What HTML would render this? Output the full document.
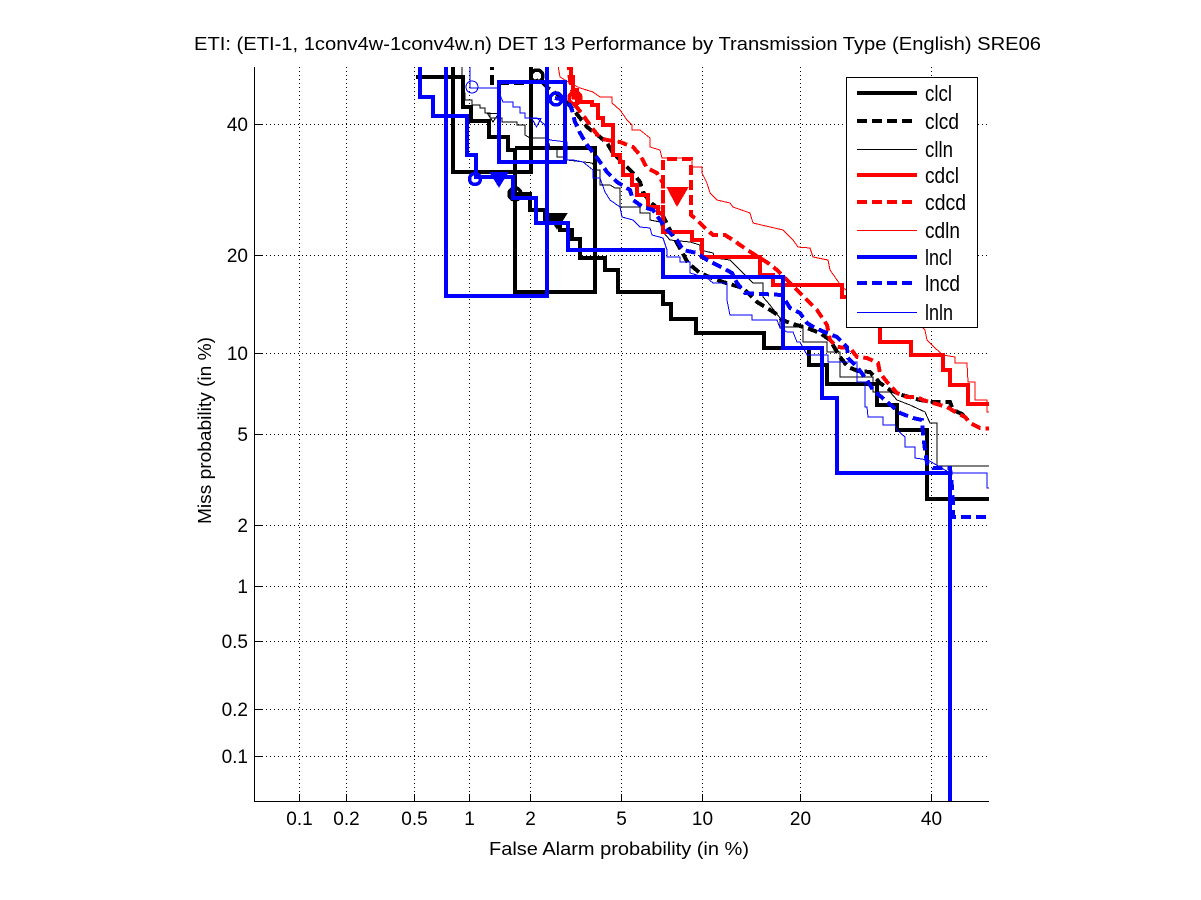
<!DOCTYPE html>
<html>
<head>
<meta charset="utf-8">
<style>
  html,body{margin:0;padding:0;background:#fff;}
  body{width:1201px;height:900px;overflow:hidden;}
  svg{display:block;}
  text{font-family:"Liberation Sans",Arial,sans-serif;fill:#000;}
</style>
</head>
<body>
<svg width="1201" height="900" viewBox="0 0 1201 900" xmlns="http://www.w3.org/2000/svg">
  <defs>
    <clipPath id="pc"><rect x="254" y="67" width="735" height="734"/></clipPath>
  </defs>
  <rect x="0" y="0" width="1201" height="900" fill="#fff"/>

  <!-- Title -->
  <text x="194" y="50" font-size="18" textLength="847" lengthAdjust="spacingAndGlyphs">ETI: (ETI-1, 1conv4w-1conv4w.n) DET 13 Performance by Transmission Type (English) SRE06</text>

  <!-- Grid (dotted) -->
  <g stroke="#000" stroke-width="1" stroke-dasharray="1 3" shape-rendering="crispEdges" fill="none">
    <line x1="299.5" y1="67" x2="299.5" y2="801"/>
    <line x1="346.5" y1="67" x2="346.5" y2="801"/>
    <line x1="414.5" y1="67" x2="414.5" y2="801"/>
    <line x1="469.5" y1="67" x2="469.5" y2="801"/>
    <line x1="530.5" y1="67" x2="530.5" y2="801"/>
    <line x1="621.5" y1="67" x2="621.5" y2="801"/>
    <line x1="702.5" y1="67" x2="702.5" y2="801"/>
    <line x1="800.5" y1="67" x2="800.5" y2="801"/>
    <line x1="931.5" y1="67" x2="931.5" y2="801"/>
    <line x1="254" y1="124.5" x2="989" y2="124.5"/>
    <line x1="254" y1="255.5" x2="989" y2="255.5"/>
    <line x1="254" y1="353.5" x2="989" y2="353.5"/>
    <line x1="254" y1="434.5" x2="989" y2="434.5"/>
    <line x1="254" y1="525.5" x2="989" y2="525.5"/>
    <line x1="254" y1="586.5" x2="989" y2="586.5"/>
    <line x1="254" y1="641.5" x2="989" y2="641.5"/>
    <line x1="254" y1="709.5" x2="989" y2="709.5"/>
    <line x1="254" y1="756.5" x2="989" y2="756.5"/>
  </g>

  <!-- Axes -->
  <g stroke="#000" stroke-width="1" shape-rendering="crispEdges" fill="none">
    <line x1="254.5" y1="67" x2="254.5" y2="801.5"/>
    <line x1="254" y1="801.5" x2="989" y2="801.5"/>
    <line x1="299.5" y1="801" x2="299.5" y2="794"/>
    <line x1="346.5" y1="801" x2="346.5" y2="794"/>
    <line x1="414.5" y1="801" x2="414.5" y2="794"/>
    <line x1="469.5" y1="801" x2="469.5" y2="794"/>
    <line x1="530.5" y1="801" x2="530.5" y2="794"/>
    <line x1="621.5" y1="801" x2="621.5" y2="794"/>
    <line x1="702.5" y1="801" x2="702.5" y2="794"/>
    <line x1="800.5" y1="801" x2="800.5" y2="794"/>
    <line x1="931.5" y1="801" x2="931.5" y2="794"/>
    <line x1="254" y1="124.5" x2="262" y2="124.5"/>
    <line x1="254" y1="255.5" x2="262" y2="255.5"/>
    <line x1="254" y1="353.5" x2="262" y2="353.5"/>
    <line x1="254" y1="434.5" x2="262" y2="434.5"/>
    <line x1="254" y1="525.5" x2="262" y2="525.5"/>
    <line x1="254" y1="586.5" x2="262" y2="586.5"/>
    <line x1="254" y1="641.5" x2="262" y2="641.5"/>
    <line x1="254" y1="709.5" x2="262" y2="709.5"/>
    <line x1="254" y1="756.5" x2="262" y2="756.5"/>
  </g>

  <!-- Tick labels -->
  <g font-size="19" text-anchor="middle">
    <text x="299.5" y="825">0.1</text>
    <text x="346.5" y="825">0.2</text>
    <text x="414.5" y="825">0.5</text>
    <text x="469.5" y="825">1</text>
    <text x="530.5" y="825">2</text>
    <text x="621.5" y="825">5</text>
    <text x="702.5" y="825">10</text>
    <text x="800.5" y="825">20</text>
    <text x="931.5" y="825">40</text>
  </g>
  <g font-size="19" text-anchor="end">
    <text x="248" y="131">40</text>
    <text x="248" y="262">20</text>
    <text x="248" y="360">10</text>
    <text x="248" y="441">5</text>
    <text x="248" y="532">2</text>
    <text x="248" y="593">1</text>
    <text x="248" y="648">0.5</text>
    <text x="248" y="716">0.2</text>
    <text x="248" y="763">0.1</text>
  </g>

  <!-- Axis labels -->
  <text x="489" y="855" font-size="18" textLength="260" lengthAdjust="spacingAndGlyphs">False Alarm probability (in %)</text>
  <text transform="translate(211,524) rotate(-90)" x="0" y="0" font-size="18" textLength="187" lengthAdjust="spacingAndGlyphs">Miss probability (in %)</text>

  <!-- Curves -->
  <g clip-path="url(#pc)" fill="none" stroke-linejoin="miter" shape-rendering="crispEdges">
    <!-- clcl -->
    <g stroke="#000" stroke-width="4">
      <path d="M416,77 H463 V107 H471 V121 H489 V137 H508 V150 H515 V292 H595 V148 H515"/>
      <path d="M453,60 V172 H531 V60"/>
      <path d="M515,194 H530 V210 H545 V220 H560 V230 H572 V239 H580 V258 H605 V270 H618 V292 H663 V304 H671 V319 H696 V333 H764 V348 H809 V365 H827 V384 H877 V405 H897 V430 H927 V499 H995"/>
    </g>
    <circle cx="515" cy="194" r="6" stroke="#000" stroke-width="3.5" fill="none"/>
    <path d="M548,214 L566,214 L557,228 Z" fill="#000" stroke="#000" stroke-width="2"/>
    <!-- clcd -->
    <path stroke="#000" stroke-width="4" stroke-dasharray="10 5" d="M492,60 V83 H530 L540,80 L548,88 L560,96 L572,108 L580,118 L587,127 L600,137 L607,143 L613,153 L623,163 L633,173 L640,182 L643,192 L650,202 L660,210 L670,230 L677,243 L682,252 L688,263 L700,273 L712,278 L723,282 L733,285 L743,288 L757,302 L767,308 L775,313 L782,320 L793,324 L807,328 L820,333 L830,340 L840,357 L848,367 L858,371 L870,372 L880,383 L890,390 L902,395 L920,400 L933,402 L950,402 L953,410 L962,414 L968,420"/>
    <circle cx="537" cy="76" r="6" stroke="#000" stroke-width="3.5" fill="none"/>
    <!-- clln -->
    <path stroke="#000" stroke-width="1" d="M462,60 V93 H465 V100 H472 V105 H480 V108 H485 V113 H490 V118 H502 V122 H517 V125 H525 V135 L530,138 H547 L550,147 H557 V157 H567 V160 L592,163 L597,170 H600 V185 H610 L615,188 H620 V207 H640 V213 H650 V220 L660,222 L663,232 L670,240 L690,242 L700,245 V250 L713,253 L715,258 L730,260 L735,265 L745,275 L753,283 H763 V297 L770,305 L780,318 V327 H803 V342 H827 V352 H840 V377 H873 V392 H890 L897,400 L910,405 L925,412 L930,423 H937 V466 H995"/>
    <path d="M487.5,113.5 L498.5,113.5 L493,122 Z" stroke="#000" stroke-width="1" fill="none"/>
    <!-- cdcl -->
    <path stroke="#f00" stroke-width="4" d="M571,60 V77 H573 V90 H577 V102 H592 V105 H598 V118 H603 V125 H613 V155 H620 V162 H623 V175 H632 V185 H637 V195 H648 V207 H658 V213 H663 V232 H692 V240 H702 V257 H760 V275 H773 V285 H842 V297 H880 V342 H911 V355 H943 V370 H950 V385 H968 V404 H995"/>
    <circle cx="575" cy="98" r="6" stroke="#f00" stroke-width="3.5" fill="none"/>
    <!-- cdcd -->
    <path stroke="#f00" stroke-width="4" stroke-dasharray="10 5" d="M568,60 L570,80 L575,105 L583,115 L592,128 L600,138 L607,140 L620,142 L633,147 L640,155 L647,168 L657,173 L663,183 V230 M663,230 V159 H691 V215 L697,220 L705,228 L713,235 H725 L733,240 L743,247 L752,253 L760,258 L768,263 L777,270 L787,280 L797,290 L807,300 L817,310 L827,325 L830,340 L837,347 L850,348 L857,357 L867,358 L878,363 L880,373 L887,382 L897,393 L907,397 L917,397 L923,400 L933,403 L947,407 L957,413 L965,417 L970,423 L980,428 L995,429"/>
    <path d="M668,188 L687,188 L677,205 Z" fill="#f00" stroke="#f00" stroke-width="2"/>
    <!-- cdln -->
    <path stroke="#f00" stroke-width="1" d="M557,60 L560,77 L570,83 L580,88 L593,92 L600,97 H612 V103 L620,110 L627,120 L632,125 V130 H640 L650,138 V147 L660,150 L662,158 H692 V167 H702 V173 L707,183 L710,193 L717,200 L730,203 L733,207 L750,213 L753,223 L783,230 L793,240 L798,247 L810,248 L813,257 L828,260 L830,270 L837,280 L842,287 L860,300 L890,310 L915,320 L925,330 L927,340 L935,348 L943,355 L955,357 V363 H967 L968,382 H975 V400 H987 V412 H995"/>
    <!-- lncl -->
    <g stroke="#00f" stroke-width="4">
      <path d="M420,60 V97 H433 V116 H467 V155 H476 V177 H513 V198 H536 V223 H568 V250 H663 V277 H783 V348 H822 V398 H837 V473 H950 V805"/>
      <path d="M446,60 V296 H547 V60"/>
      <path d="M499,82 H565 V162 H499 Z"/>
    </g>
    <circle cx="475" cy="179" r="5.5" stroke="#00f" stroke-width="3.5" fill="none"/>
    <path d="M491,173 L507,173 L499,186 Z" fill="#00f" stroke="#00f" stroke-width="2"/>
    <!-- lncd -->
    <path stroke="#00f" stroke-width="4" stroke-dasharray="10 5" d="M555,98 L565,100 L570,105 L572,110 L575,122 L580,133 L587,145 L595,155 L600,162 L607,172 L617,182 L630,190 L633,200 L643,207 L653,210 L660,220 L667,230 L677,240 L683,250 L697,253 L707,260 L713,263 L723,268 L732,273 L737,283 L745,293 L782,295 L790,308 L800,313 L807,323 L815,328 L827,333 L837,337 L847,347 L848,358 L857,367 L867,380 L873,390 L885,400 L900,413 L913,418 L922,420 L923,433 L925,450 L927,463 L933,468 L950,468 L952,487 L953,500 L953,517 L995,517"/>
    <circle cx="556" cy="99" r="6" stroke="#00f" stroke-width="3.5" fill="none"/>
    <!-- lnln -->
    <path stroke="#00f" stroke-width="1" d="M470,60 V88 H497 L503,102 H513 V107 H520 V113 H525 V118 H537 L545,125 L547,138 L550,140 L567,142 V160 L573,160 L583,162 L593,170 V178 H600 L605,192 L610,200 L620,207 L622,217 L633,220 L640,227 L650,228 L652,235 L663,238 L667,250 V257 H680 V262 H690 V273 L707,278 L713,283 H727 V300 L730,315 H752 V320 H777 L780,328 L787,332 H793 L797,342 H800 L807,355 H828 V362 H857 V382 H865 V407 H867 L868,417 H883 V425 H895 L897,430 L905,437 V447 H915 V458 L928,460 L950,473 H987 V488 H995"/>
    <circle cx="472" cy="87" r="6" stroke="#00f" stroke-width="1" fill="none"/>
    <path d="M532,118.5 L541,118.5 L536.5,127 Z" stroke="#00f" stroke-width="1" fill="none"/>
  </g>

  <!-- Legend -->
  <rect x="846.5" y="77.5" width="131" height="250" fill="#fff" stroke="#000" stroke-width="1" shape-rendering="crispEdges"/>
  <g fill="none" shape-rendering="crispEdges">
    <line x1="857" y1="93" x2="917" y2="93" stroke="#000" stroke-width="4"/>
    <line x1="857" y1="121" x2="917" y2="121" stroke="#000" stroke-width="4" stroke-dasharray="10 5"/>
    <line x1="857" y1="149.5" x2="917" y2="149.5" stroke="#000" stroke-width="1"/>
    <line x1="857" y1="175" x2="917" y2="175" stroke="#f00" stroke-width="4"/>
    <line x1="857" y1="202" x2="917" y2="202" stroke="#f00" stroke-width="4" stroke-dasharray="10 5"/>
    <line x1="857" y1="230.5" x2="917" y2="230.5" stroke="#f00" stroke-width="1"/>
    <line x1="857" y1="257" x2="917" y2="257" stroke="#00f" stroke-width="4"/>
    <line x1="857" y1="283" x2="917" y2="283" stroke="#00f" stroke-width="4" stroke-dasharray="10 5"/>
    <line x1="857" y1="312.5" x2="917" y2="312.5" stroke="#00f" stroke-width="1"/>
  </g>
  <g font-size="22">
    <text x="925" y="101" textLength="27" lengthAdjust="spacingAndGlyphs">clcl</text>
    <text x="925" y="129" textLength="34" lengthAdjust="spacingAndGlyphs">clcd</text>
    <text x="925" y="157" textLength="28" lengthAdjust="spacingAndGlyphs">clln</text>
    <text x="925" y="183" textLength="34" lengthAdjust="spacingAndGlyphs">cdcl</text>
    <text x="925" y="210" textLength="41" lengthAdjust="spacingAndGlyphs">cdcd</text>
    <text x="925" y="238" textLength="35" lengthAdjust="spacingAndGlyphs">cdln</text>
    <text x="925" y="265" textLength="27" lengthAdjust="spacingAndGlyphs">lncl</text>
    <text x="925" y="291" textLength="35" lengthAdjust="spacingAndGlyphs">lncd</text>
    <text x="925" y="320" textLength="28" lengthAdjust="spacingAndGlyphs">lnln</text>
  </g>
</svg>
</body>
</html>
